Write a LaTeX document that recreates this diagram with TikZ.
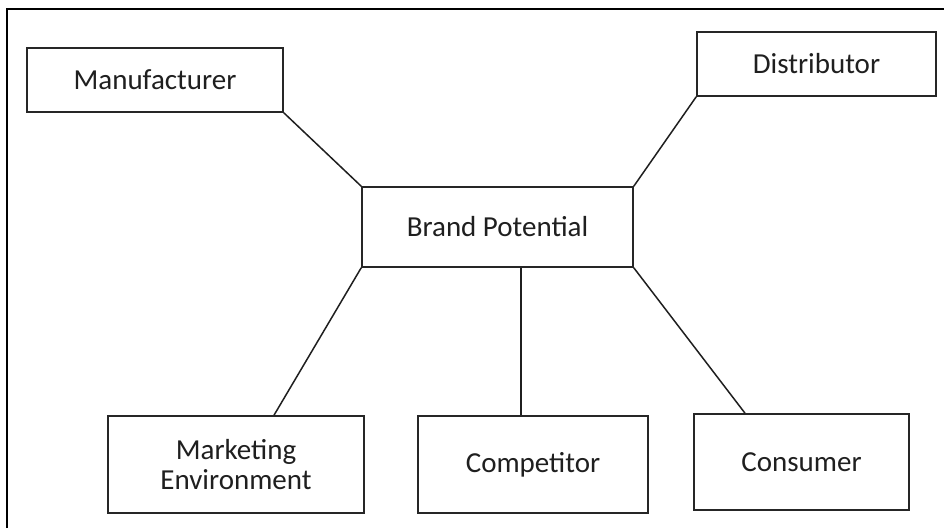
\documentclass[tikz,border=0pt]{standalone}
\usepackage{fontspec}
\setmainfont{Carlito}
\begin{document}
\begin{tikzpicture}[x=1pt,y=-1pt,
  box/.style={draw=black!85, line width=1.6pt, rectangle, inner sep=0pt, align=center,
    font=\fontsize{29}{30}\selectfont, text=black!88},
  link/.style={draw=black!88, line width=1.5pt}]
\useasboundingbox[fill=white] (0,0) rectangle (944,528);
\draw[line width=1.4pt] (7,528) -- (7,9) -- (944,9);
\node[box, minimum width=256pt, minimum height=64pt] (Man) at (155,80) {Manufacturer};
\node[box, minimum width=239pt, minimum height=64pt] (Dis) at (816.5,64) {Distributor};
\node[box, minimum width=271pt, minimum height=80pt] (Brand) at (497.5,227) {Brand Potential};
\node[box, minimum width=256pt, minimum height=97pt] (ME) at (236,464.5) {Marketing\\Environment};
\node[box, minimum width=230pt, minimum height=97pt] (Comp) at (533,464.5) {Competitor};
\node[box, minimum width=215pt, minimum height=96pt] (Cons) at (801.5,462) {Consumer};
\draw[link] (Man.south east) -- (Brand.north west);
\draw[link] (Dis.south west) -- (Brand.north east);
\draw[link] (Brand.south west) -- ([xshift=38pt]ME.north);
\coordinate (cb) at ([xshift=23.5pt]Brand.south);
\draw[link] (cb) -- (cb |- Comp.north);
\draw[link] (Brand.south east) -- ([xshift=-56.5pt]Cons.north);
\end{tikzpicture}
\end{document}
